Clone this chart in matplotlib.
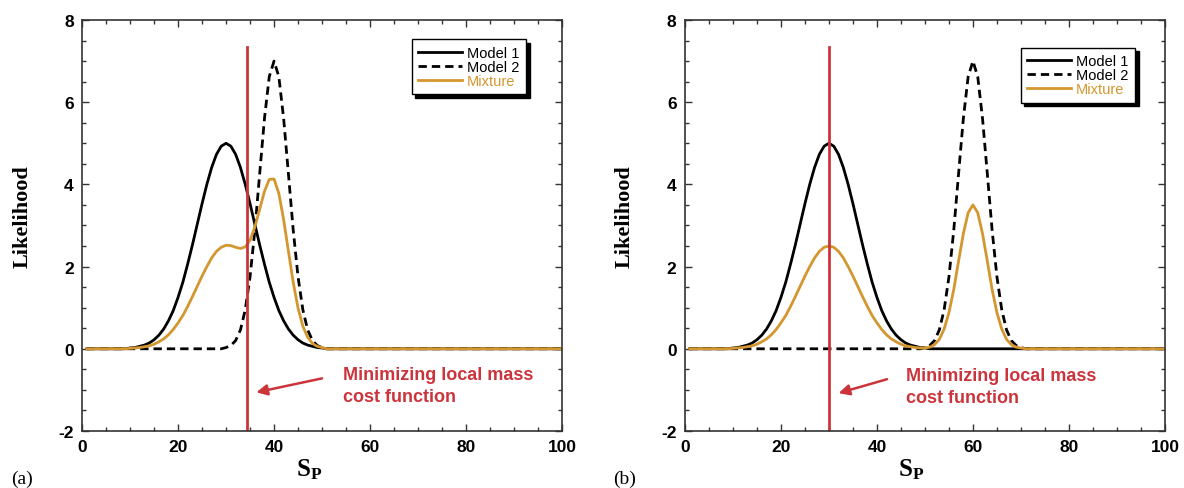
import matplotlib.pyplot as plt
from matplotlib.ticker import MultipleLocator

plt.rcParams["axes.unicode_minus"] = False
plt.rcParams["mathtext.fontset"] = "custom"
plt.rcParams["mathtext.bf"] = "Liberation Serif:bold"
plt.rcParams["mathtext.rm"] = "Liberation Serif"

SANS = "Liberation Sans"
SERIF = "Liberation Serif"
ORANGE = "#d4962f"
RED = "#cc343c"

# Model 1: peak of 5 at S_P = 30 (same in both panels)
model1_sp = [1] + list(range(9, 52)) + [100]
model1_vals = [0, 0.00,
               0.02, 0.03, 0.06, 0.09, 0.14, 0.22, 0.33, 0.48, 0.68, 0.93,
               1.25, 1.62, 2.06, 2.53, 3.03, 3.53, 4.00, 4.41, 4.73, 4.93,
               5.00, 4.93, 4.73, 4.41, 4.00, 3.53, 3.03, 2.53, 2.06, 1.62,
               1.25, 0.93, 0.68, 0.48, 0.33, 0.22, 0.14, 0.09, 0.06, 0.03,
               0.02, 0.00, 0]

# Model 2: narrow peak of 7, centred at 40 in (a) and 60 in (b)
model2_sp_a = [1] + list(range(29, 52)) + [100]
model2_sp_b = [1] + list(range(49, 72)) + [100]
model2_vals = [0, 0.00,
               0.03, 0.08, 0.20, 0.46, 0.95, 1.75, 2.88, 4.25, 5.60, 6.62,
               7.00, 6.62, 5.60, 4.25, 2.88, 1.75, 0.95, 0.46, 0.20, 0.08,
               0.03, 0.00, 0]

# Mixture curves
mix_sp_a = [1] + list(range(9, 52)) + [100]
mix_vals_a = [0, 0.00,
              0.01, 0.02, 0.03, 0.05, 0.07, 0.11, 0.17, 0.24, 0.34, 0.47,
              0.63, 0.81, 1.03, 1.27, 1.52, 1.77, 2.00, 2.21, 2.37, 2.47,
              2.52, 2.51, 2.47, 2.44, 2.48, 2.64, 2.96, 3.39, 3.83, 4.12,
              4.13, 3.78, 3.14, 2.37, 1.61, 0.99, 0.55, 0.28, 0.13, 0.06,
              0.03, 0.00, 0]

mix_sp_b = [1] + list(range(9, 72)) + [100]
mix_vals_b = [0, 0.00,
              0.01, 0.02, 0.03, 0.05, 0.07, 0.11, 0.17, 0.24, 0.34, 0.47,
              0.63, 0.81, 1.03, 1.27, 1.52, 1.77, 2.00, 2.21, 2.37, 2.47,
              2.50, 2.47, 2.37, 2.21, 2.00, 1.77, 1.52, 1.27, 1.03, 0.81,
              0.63, 0.47, 0.34, 0.24, 0.17, 0.11, 0.07, 0.05, 0.03, 0.02,
              0.02, 0.04, 0.10, 0.23, 0.48, 0.88, 1.44, 2.13, 2.80, 3.31,
              3.50, 3.31, 2.80, 2.13, 1.44, 0.88, 0.48, 0.23, 0.10, 0.04,
              0.02, 0.00, 0]

# cost function minimum (vertical red line) for each panel
min_sp = {"a": 34.3, "b": 30.0}
line_top = 7.35

note = "Minimizing local mass\ncost function"
note_xy = {"a": (54.4, -0.42), "b": (46.0, -0.44)}
arrow_from = {"a": (50.0, -0.72), "b": (42.1, -0.74)}
arrow_to = {"a": (36.3, -1.06), "b": (32.0, -1.08)}
legend_anchor = {"a": (0.925, 0.953), "b": (0.938, 0.933)}
ylabel_x = {"a": -0.102, "b": -0.104}
xlabel_x = {"a": 0.473, "b": 0.471}


def draw_panel(ax, key, m2_sp, mix_sp, mix_vals):
    ax.plot(model1_sp, model1_vals, color="black", lw=2, label="Model 1")
    ax.plot(m2_sp, model2_vals, color="black", lw=2, ls=(0, (3, 1.8)), label="Model 2")
    ax.plot(mix_sp, mix_vals, color=ORANGE, lw=2, label="Mixture")
    ax.plot([min_sp[key], min_sp[key]], [-2, line_top], color=RED, lw=2)

    ax.text(*note_xy[key], note, color=RED, fontsize=13, fontweight="bold",
            family=SANS, va="top", ha="left", linespacing=1.4)
    ax.annotate("", xy=arrow_to[key], xytext=arrow_from[key],
                arrowprops=dict(arrowstyle="-|>", color=RED, lw=1.8,
                                mutation_scale=16, shrinkA=0, shrinkB=0))

    ax.set_xlim(0, 100)
    ax.set_ylim(-2, 8)
    ax.xaxis.set_major_locator(MultipleLocator(20))
    ax.xaxis.set_minor_locator(MultipleLocator(5))
    ax.yaxis.set_major_locator(MultipleLocator(2))
    ax.yaxis.set_minor_locator(MultipleLocator(0.5))
    ax.tick_params(which="both", direction="in", top=True, right=True, width=1, color="#333333")
    ax.tick_params(which="major", length=5, labelsize=12.5, pad=6)
    ax.tick_params(which="minor", length=3)
    for lab in ax.get_xticklabels() + ax.get_yticklabels():
        lab.set_family(SANS)
        lab.set_fontweight("bold")
    for sp in ax.spines.values():
        sp.set_linewidth(1.2)
        sp.set_color("#333333")

    ax.set_ylabel("Likelihood", family=SERIF, fontweight="bold", fontsize=16)
    ax.yaxis.set_label_coords(ylabel_x[key], 0.523)
    ax.set_xlabel(r"$\mathbf{S_P}$", fontsize=18)
    ax.xaxis.set_label_coords(xlabel_x[key], -0.063)

    leg = ax.legend(loc="upper right", bbox_to_anchor=legend_anchor[key],
                    prop={"family": SANS, "size": 10.5}, frameon=True, fancybox=False,
                    edgecolor="black", handlelength=3.0, handletextpad=0.35,
                    labelspacing=0.0, borderpad=0.45, borderaxespad=0,
                    shadow={"color": "black", "alpha": 1, "ox": 2.5, "oy": -2.5})
    leg.get_frame().set_linewidth(1.0)
    leg.get_texts()[2].set_color(ORANGE)


fig = plt.figure(figsize=(11.84, 4.89), dpi=100)

ax_a = fig.add_axes([0.0693, 0.1166, 0.4054, 0.8405])
ax_b = fig.add_axes([0.5785, 0.1166, 0.4054, 0.8405])

draw_panel(ax_a, "a", model2_sp_a, mix_sp_a, mix_vals_a)
draw_panel(ax_b, "b", model2_sp_b, mix_sp_b, mix_vals_b)

fig.text(11 / 1184, 1 - 479 / 489, "(a)", family=SERIF, fontsize=14, ha="left", va="center")
fig.text(613 / 1184, 1 - 479 / 489, "(b)", family=SERIF, fontsize=14, ha="left", va="center")

fig.savefig("out.png", dpi=100)
